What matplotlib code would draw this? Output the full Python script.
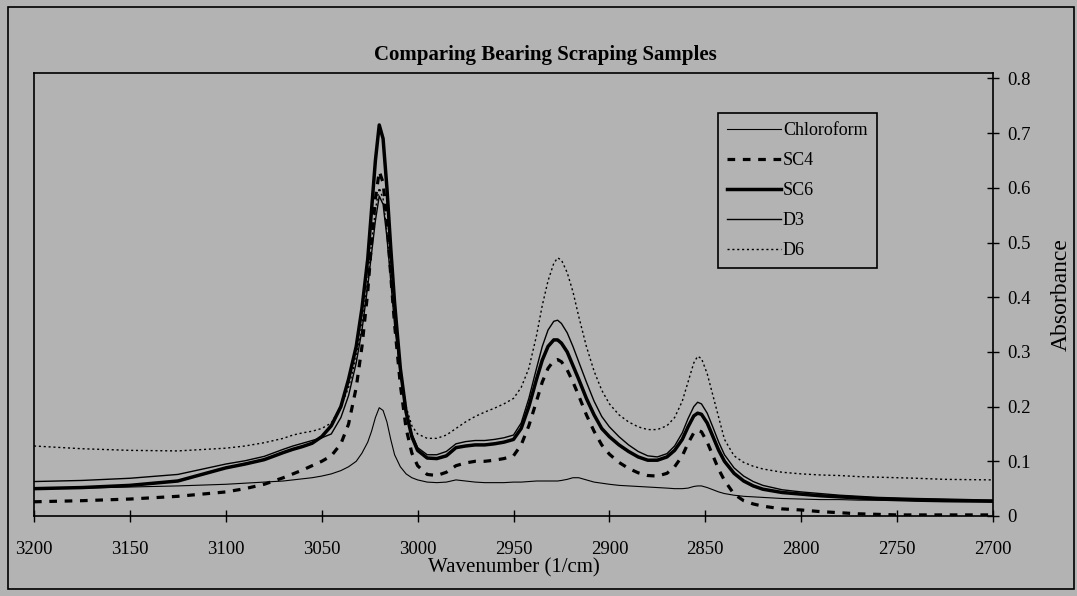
import matplotlib
matplotlib.use("Agg")
import matplotlib.pyplot as plt
from matplotlib.patches import Rectangle

wavenumber = [3200, 3175, 3150, 3125, 3100, 3090, 3080, 3070, 3065, 3060, 3055, 3050, 3045,
              3040, 3036, 3032, 3029, 3026, 3024, 3022, 3020, 3018, 3016, 3014, 3012, 3009,
              3006, 3003, 3000, 2995, 2990, 2985, 2980, 2975, 2970, 2965, 2960, 2955, 2950,
              2946, 2942, 2938, 2935, 2932, 2929, 2927, 2925, 2922, 2919, 2916, 2912, 2908,
              2904, 2900, 2895, 2890, 2885, 2880, 2875, 2870, 2866, 2862, 2859, 2856, 2854,
              2852, 2849, 2846, 2843, 2840, 2835, 2830, 2825, 2820, 2810, 2800, 2790, 2780,
              2770, 2760, 2750, 2740, 2725, 2700]

chloroform = [0.050, 0.051, 0.053, 0.055, 0.058, 0.060, 0.062, 0.064, 0.066, 0.068, 0.070, 0.073, 0.077,
              0.083, 0.090, 0.100, 0.115, 0.135, 0.155, 0.180, 0.198, 0.193, 0.172, 0.140, 0.112, 0.090,
              0.077, 0.070, 0.066, 0.062, 0.061, 0.062, 0.066, 0.064, 0.062, 0.061, 0.061, 0.061, 0.062,
              0.062, 0.063, 0.064, 0.064, 0.064, 0.064, 0.064, 0.065, 0.067, 0.070, 0.070, 0.066, 0.062,
              0.060, 0.058, 0.056, 0.055, 0.054, 0.053, 0.052, 0.051, 0.050, 0.050, 0.051, 0.054, 0.055,
              0.055, 0.052, 0.048, 0.044, 0.041, 0.038, 0.036, 0.035, 0.034, 0.032, 0.031, 0.030, 0.030,
              0.029, 0.029, 0.029, 0.028, 0.028, 0.028]

sc4 = [0.026, 0.028, 0.031, 0.036, 0.044, 0.050, 0.058, 0.070, 0.077, 0.084, 0.092, 0.100, 0.110,
       0.132, 0.168, 0.235, 0.310, 0.410, 0.500, 0.580, 0.630, 0.610, 0.540, 0.440, 0.350, 0.240,
       0.160, 0.115, 0.092, 0.076, 0.074, 0.080, 0.092, 0.097, 0.100, 0.100, 0.102, 0.105, 0.110,
       0.130, 0.165, 0.210, 0.245, 0.270, 0.284, 0.286, 0.282, 0.267, 0.245, 0.220, 0.185, 0.155,
       0.130, 0.113, 0.098, 0.087, 0.079, 0.074, 0.073, 0.078, 0.090, 0.110, 0.133, 0.152, 0.157,
       0.154, 0.135, 0.110, 0.085, 0.065, 0.040, 0.028, 0.022, 0.018, 0.013, 0.011, 0.008, 0.006,
       0.004, 0.003, 0.002, 0.002, 0.002, 0.002]

sc6 = [0.050, 0.052, 0.056, 0.064, 0.088, 0.095, 0.103, 0.116, 0.122, 0.127, 0.133, 0.145, 0.165,
       0.200, 0.250, 0.310, 0.380, 0.470, 0.560, 0.650, 0.715, 0.690, 0.600, 0.490, 0.390, 0.270,
       0.190, 0.145, 0.120, 0.106, 0.105, 0.110, 0.125, 0.128, 0.130, 0.130, 0.132, 0.135, 0.140,
       0.160, 0.200, 0.250, 0.285, 0.310, 0.322, 0.322, 0.316, 0.300, 0.275, 0.250, 0.215, 0.185,
       0.160, 0.145, 0.130, 0.118, 0.108, 0.102, 0.102, 0.108, 0.120, 0.140, 0.163, 0.183, 0.188,
       0.186, 0.170, 0.145, 0.120, 0.100, 0.078, 0.064, 0.055, 0.049, 0.043, 0.040, 0.037, 0.035,
       0.033, 0.031, 0.030, 0.029, 0.028, 0.027]

d3 = [0.063, 0.065, 0.069, 0.076, 0.095, 0.101, 0.109, 0.122, 0.128, 0.133, 0.138, 0.143, 0.150,
      0.180, 0.220, 0.280, 0.340, 0.420, 0.480, 0.540, 0.585, 0.570, 0.510, 0.430, 0.350, 0.260,
      0.190, 0.150, 0.125, 0.112, 0.112, 0.118, 0.132, 0.136, 0.138, 0.138, 0.140, 0.143, 0.148,
      0.170, 0.215, 0.270, 0.310, 0.340, 0.356, 0.358, 0.352, 0.335, 0.310, 0.282, 0.245, 0.210,
      0.182, 0.163, 0.145, 0.130, 0.118, 0.110, 0.108, 0.114, 0.128, 0.152, 0.178, 0.200, 0.208,
      0.205, 0.188, 0.162, 0.135, 0.112, 0.088, 0.073, 0.063, 0.056, 0.048, 0.044, 0.041, 0.038,
      0.036, 0.034, 0.033, 0.032, 0.031, 0.029]

d6 = [0.128, 0.123, 0.120, 0.119, 0.124, 0.128, 0.134, 0.142, 0.148, 0.152, 0.155, 0.160, 0.170,
      0.200, 0.235, 0.290, 0.350, 0.430, 0.500, 0.560, 0.600, 0.580, 0.520, 0.440, 0.360, 0.270,
      0.200, 0.165, 0.150, 0.142, 0.142, 0.148, 0.160, 0.172, 0.182, 0.190, 0.197, 0.205, 0.215,
      0.235, 0.270, 0.330, 0.385, 0.430, 0.462, 0.472, 0.468, 0.445, 0.410, 0.365, 0.310, 0.265,
      0.230, 0.205, 0.185, 0.172, 0.163, 0.158, 0.158, 0.165, 0.180, 0.210, 0.245, 0.280, 0.292,
      0.288, 0.260, 0.220, 0.180, 0.140, 0.110, 0.098, 0.091, 0.086, 0.080, 0.077, 0.075, 0.074,
      0.072, 0.071, 0.070, 0.069, 0.067, 0.066]

x_ticks = [3200, 3150, 3100, 3050, 3000, 2950, 2900, 2850, 2800, 2750, 2700]
y_ticks = [0, 0.1, 0.2, 0.3, 0.4, 0.5, 0.6, 0.7, 0.8]
y_tick_labels = ["0", "0.1", "0.2", "0.3", "0.4", "0.5", "0.6", "0.7", "0.8"]

bg = "#b3b3b3"
plt.rcParams['font.family'] = ['Liberation Serif', 'DejaVu Serif']

fig = plt.figure(figsize=(10.77, 5.96), dpi=100, facecolor=bg)
ax = fig.add_axes([34/1077, 1-516/596, (993-34)/1077, (516-73)/596])
ax.set_facecolor(bg)

ax.plot(wavenumber, chloroform, color="black", lw=0.8, label="Chloroform")
ax.plot(wavenumber, sc4, color="black", lw=2.3, linestyle=(0, (2.4, 2.4)), label="SC4")
ax.plot(wavenumber, sc6, color="black", lw=2.5, label="SC6")
ax.plot(wavenumber, d3, color="black", lw=1.0, label="D3")
ax.plot(wavenumber, d6, color="black", lw=1.0, linestyle=(0, (1.5, 2)), label="D6")

ax.set_xlim(3200, 2700)
ax.set_ylim(0, 0.81)
ax.set_xticks(x_ticks)
ax.set_xticklabels([str(t) for t in x_ticks], fontsize=13.5)
ax.yaxis.tick_right()
ax.set_yticks(y_ticks)
ax.set_yticklabels(y_tick_labels, fontsize=13.5)
ax.yaxis.set_label_position("right")
ax.tick_params(axis='both', direction='inout', length=8, width=1, color='black')
ax.tick_params(axis='x', pad=14)
ax.tick_params(axis='y', pad=6)
for s in ax.spines.values():
    s.set_linewidth(1.2)
    s.set_color("black")

ax.set_xlabel("Wavenumber (1/cm)", fontsize=15, labelpad=0)
ax.set_ylabel("Absorbance", fontsize=17, labelpad=15)

fig.text(545/1077, 1-55/596, "Comparing Bearing Scraping Samples", ha="center", va="center",
         fontsize=15, fontweight="bold")

leg = ax.legend(loc="upper left", bbox_to_anchor=((718-34)/959, (516-113)/443),
                fontsize=13, frameon=True, fancybox=False, edgecolor="black", facecolor=bg,
                framealpha=1, handlelength=3.0, handletextpad=0.1, labelspacing=0.72,
                borderpad=0.5, borderaxespad=0)
leg.get_frame().set_linewidth(1.2)

fig.patches.append(Rectangle((8/1077, 1-589/596), (1074-8)/1077, (589-7)/596,
                             transform=fig.transFigure, fill=False, edgecolor="black", lw=1.2))

fig.savefig("out.png", dpi=100, facecolor=bg)
